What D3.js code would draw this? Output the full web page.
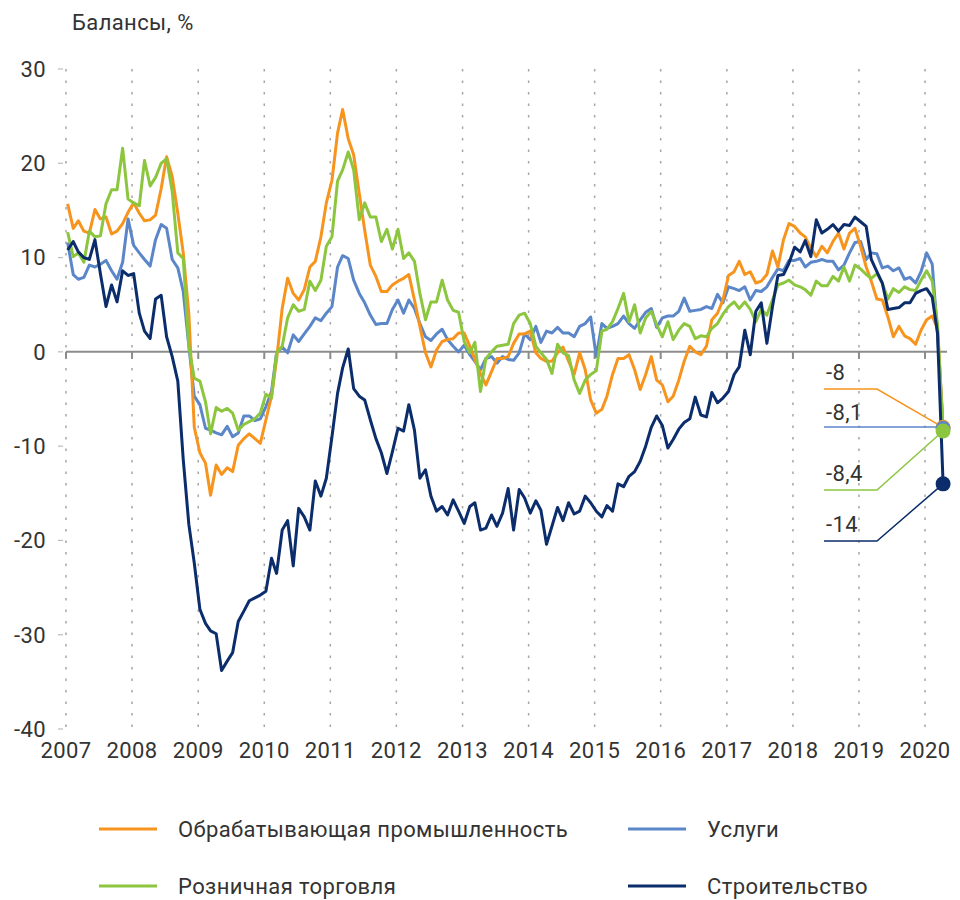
<!DOCTYPE html>
<html>
<head>
<meta charset="utf-8">
<script src="https://cdn.jsdelivr.net/npm/d3@7"></script>
<style>
  body { margin: 0; background: #fff; }
  svg text { font-family: Roboto, "Noto Sans", sans-serif; fill: #333; letter-spacing: 0.4px; }
</style>
</head>
<body>
<svg id="chart" width="960" height="900"></svg>
<script>
// monthly balances, Jan 2007 .. Apr 2020
const years = d3.range(2007, 2021);
const yTicks = [30, 20, 10, 0, -10, -20, -30, -40];

const manufacturing = [
  15.7, 13.1, 13.9, 12.8, 12.6, 15.1, 14.1, 14.3, 12.5, 12.8, 13.6, 14.8,
  15.8, 14.7, 13.9, 14.0, 14.5, 17.3, 20.7, 18.6, 14.7, 10.5, 4.0, -8.0,
  -10.7, -11.8, -15.2, -12.0, -13.0, -12.3, -12.7, -9.9, -9.2, -8.7, -9.2, -9.7,
  -7.2, -4.7, -0.8, 4.6, 7.8, 6.2, 5.5, 6.6, 9.0, 9.6, 12.2, 15.8,
  18.2, 23.2, 25.7, 22.6, 20.9, 16.8, 12.9, 9.2, 8.0, 6.4, 6.4, 7.1,
  7.5, 7.8, 8.2, 5.5, 2.7, -0.1, -1.6, 0.2, 1.1, 1.3, 1.4, 2.0,
  2.0, 0.6, -0.8, -2.3, -3.5, -2.1, -0.7, -0.7, -0.5, 0.9, 1.9, 1.9,
  2.2, -0.1, -0.7, -1.0, -1.0, -0.1, 0.5, -1.0, -2.4, -0.1, -1.9, -5.1,
  -6.5, -6.1, -4.7, -2.4, -0.7, -0.7, -0.3, -1.9, -4.0, -2.4, -0.5, -3.0,
  -3.5, -5.3, -4.7, -3.0, -1.0, 0.6, 0.0, -0.3, 0.6, 3.4, 4.1, 5.5,
  8.1, 8.5, 9.6, 8.2, 8.5, 7.3, 7.5, 8.2, 10.7, 9.0, 11.9, 13.6,
  13.3, 12.6, 12.2, 11.0, 10.1, 11.2, 10.5, 11.7, 12.6, 10.9, 12.6, 13.1,
  11.2, 9.0, 7.5, 5.6, 5.5, 3.7, 1.6, 2.7, 1.7, 1.4, 0.8, 2.3,
  3.4, 3.8, 2.5, -8.0
];

const services = [
  11.6, 8.2, 7.7, 7.9, 9.2, 9.0, 9.3, 9.7, 8.6, 7.7, 9.5, 14.1,
  11.3, 10.5, 9.8, 9.1, 11.9, 13.5, 13.1, 9.8, 8.9, 6.4, 0.6, -4.7,
  -5.6, -8.1, -8.3, -8.6, -8.8, -7.9, -9.0, -8.6, -6.8, -6.8, -7.3, -7.1,
  -5.8, -4.2, -0.1, 0.5, -0.1, 1.8, 1.1, 1.9, 2.7, 3.6, 3.3, 4.1,
  4.8, 9.0, 10.2, 9.9, 7.6, 6.2, 5.2, 3.9, 2.9, 3.0, 3.0, 4.5,
  5.5, 4.1, 5.5, 4.6, 3.0, 1.6, 1.2, 1.9, 2.4, 1.3, 0.6, 0.0,
  0.7, -0.3, -1.0, -1.9, -0.7, -0.5, -1.2, -0.5, -0.8, -0.9, -0.1, 1.9,
  1.3, 2.7, 1.0, 2.2, 2.0, 2.6, 2.0, 2.0, 1.6, 2.7, 3.0, 3.7,
  -0.5, 3.0, 2.5, 2.7, 3.0, 3.8, 3.0, 2.5, 3.4, 4.2, 4.6, 2.6,
  3.6, 3.8, 3.8, 4.3, 5.7, 4.3, 4.4, 4.5, 4.8, 4.6, 6.1, 5.2,
  6.9, 6.7, 6.5, 6.9, 5.5, 6.5, 6.4, 6.9, 7.9, 8.8, 8.6, 9.7,
  9.7, 9.9, 9.0, 9.5, 9.6, 9.8, 9.6, 9.6, 8.7, 9.2, 10.5, 11.6,
  11.7, 9.8, 10.5, 10.4, 8.9, 9.1, 8.6, 8.9, 7.7, 7.9, 7.3, 8.5,
  10.5, 9.3, 2.0, -8.1
];

const retail = [
  12.7, 10.1, 10.5, 9.5, 12.8, 12.2, 12.3, 15.7, 17.2, 17.2, 21.6, 16.2,
  15.8, 15.5, 20.3, 17.6, 18.5, 20.0, 20.5, 17.0, 10.5, 9.9, 0.6, -2.8,
  -3.1, -5.3, -8.7, -5.9, -6.3, -6.0, -6.5, -8.3, -7.7, -7.4, -7.1, -6.5,
  -4.5, -4.9, -0.1, 0.6, 3.6, 5.0, 4.3, 4.5, 7.5, 6.5, 7.6, 11.2,
  12.2, 18.1, 19.3, 21.2, 19.3, 14.0, 15.8, 14.3, 14.3, 11.7, 13.0, 10.9,
  13.0, 9.9, 10.5, 9.6, 6.2, 3.4, 5.3, 5.3, 7.6, 5.5, 4.4, 4.2,
  1.1, -0.1, 1.0, -4.2, -0.7, 0.0, 0.6, 0.7, 0.8, 3.0, 3.9, 4.1,
  3.0, 0.6, -0.1, -0.8, -2.3, 0.8, -0.1, -0.4, -3.0, -4.4, -3.0, -2.4,
  -2.0, 2.2, 2.4, 3.2, 4.6, 6.2, 3.2, 5.0, 2.0, 3.6, 4.3, 2.9,
  1.6, 3.2, 1.3, 2.3, 3.0, 2.7, 1.4, 1.7, 1.6, 2.5, 3.0, 4.0,
  4.8, 5.3, 4.6, 5.3, 4.5, 3.2, 4.5, 3.9, 5.5, 7.1, 7.3, 7.6,
  7.1, 6.9, 6.6, 6.0, 7.5, 7.0, 7.0, 8.0, 7.5, 9.0, 7.5, 9.2,
  8.8, 8.2, 7.8, 8.3, 7.3, 5.6, 6.7, 6.3, 6.9, 6.6, 6.5, 7.6,
  8.6, 7.5, 3.0, -8.4
];

const construction = [
  10.8, 11.7, 10.6, 10.0, 9.8, 11.9, 8.3, 4.8, 7.1, 5.3, 8.6, 8.1,
  8.3, 4.1, 2.2, 1.4, 5.6, 6.0, 1.6, -0.5, -3.1, -11.4, -18.3, -22.4,
  -27.3, -28.8, -29.6, -29.9, -33.8, -32.8, -31.9, -28.6, -27.5, -26.4, -26.1, -25.8,
  -25.4, -21.9, -23.5, -18.9, -17.9, -22.7, -16.6, -17.5, -18.9, -13.7, -15.3, -13.4,
  -9.0, -4.4, -1.7, 0.3, -3.9, -4.7, -5.1, -7.2, -9.2, -10.7, -12.9, -10.6,
  -8.1, -8.4, -5.6, -8.3, -13.4, -12.5, -15.3, -16.9, -16.4, -17.3, -15.7, -16.9,
  -18.2, -16.4, -16.0, -18.9, -18.7, -17.3, -18.5, -17.1, -14.5, -18.9, -14.6, -15.5,
  -17.1, -15.8, -16.8, -20.4, -18.5, -16.5, -17.9, -16.0, -17.2, -16.9, -15.3, -16.0,
  -16.9, -17.5, -16.3, -16.9, -14.0, -14.3, -13.2, -12.7, -11.6, -10.0, -8.0, -6.8,
  -7.8, -10.2, -9.3, -8.2, -7.5, -7.1, -4.8, -6.7, -6.9, -4.3, -5.4, -4.9,
  -4.2, -2.4, -1.6, 2.3, -0.3, 4.3, 5.2, 0.9, 4.8, 8.1, 8.2, 9.4,
  11.1, 10.6, 11.8, 10.1, 14.0, 12.6, 13.0, 13.5, 12.8, 13.5, 13.4, 14.3,
  13.8, 13.3, 9.8, 8.5, 7.3, 4.5, 4.6, 4.7, 5.2, 5.2, 6.2, 6.5,
  6.7, 5.8, 2.0, -14.0
];

const seriesNames = ['Обрабатывающая промышленность', 'Услуги', 'Розничная торговля', 'Строительство'];
const lastLabels = ['-8', '-8,1', '-8,4', '-14'];

const colors = {
  manufacturing: '#f7941d',
  services: '#5b86c8',
  retail: '#8cc63f',
  construction: '#0b2d6b'
};

const months = manufacturing.map((d, i) => new Date(2007, i, 10));

const svg = d3.select('#chart');

const x = d3.scaleTime()
    .domain([new Date(2007, 0, 1), new Date(2020, 0, 1)])
    .range([66, 925]);
const y = d3.scaleLinear()
    .domain([-40, 30])
    .range([729, 69]);

// title
svg.append('text')
    .attr('x', 72).attr('y', 30)
    .attr('font-size', 22)
    .text('Балансы, %');

// vertical dotted grid
svg.append('g').selectAll('line')
    .data(years)
    .join('line')
    .attr('x1', d => x(new Date(d, 0, 1)))
    .attr('x2', d => x(new Date(d, 0, 1)))
    .attr('y1', y(30))
    .attr('y2', y(-40))
    .attr('stroke', '#a6a6a6')
    .attr('stroke-width', 1.5)
    .attr('stroke-dasharray', '2.5,9');

// y axis ticks and labels
const yAxis = svg.append('g');
yAxis.selectAll('line')
    .data(yTicks)
    .join('line')
    .attr('x1', 58).attr('x2', 63)
    .attr('y1', d => y(d)).attr('y2', d => y(d))
    .attr('stroke', '#bbb')
    .attr('stroke-width', 1.2);
yAxis.selectAll('text')
    .data(yTicks)
    .join('text')
    .attr('x', 46)
    .attr('y', d => y(d))
    .attr('dy', '0.36em')
    .attr('text-anchor', 'end')
    .attr('font-size', 22)
    .text(d => d);

// zero line with year ticks
svg.append('line')
    .attr('x1', 66).attr('x2', 947)
    .attr('y1', y(0)).attr('y2', y(0))
    .attr('stroke', '#8c8c8c')
    .attr('stroke-width', 2);
svg.append('g').selectAll('line')
    .data(years)
    .join('line')
    .attr('x1', d => x(new Date(d, 0, 1)))
    .attr('x2', d => x(new Date(d, 0, 1)))
    .attr('y1', y(0)).attr('y2', y(0) + 7)
    .attr('stroke', '#8c8c8c')
    .attr('stroke-width', 2);

// x labels
svg.append('g').selectAll('text')
    .data(years)
    .join('text')
    .attr('x', d => x(new Date(d, 0, 1)))
    .attr('y', 758)
    .attr('text-anchor', 'middle')
    .attr('font-size', 22)
    .text(d => d);

// lines
const line = d3.line()
    .x((d, i) => x(months[i]))
    .y(d => y(d));

const drawOrder = [
  { data: services, color: colors.services },
  { data: manufacturing, color: colors.manufacturing },
  { data: retail, color: colors.retail },
  { data: construction, color: colors.construction }
];
svg.append('g').selectAll('path')
    .data(drawOrder)
    .join('path')
    .attr('d', d => line(d.data))
    .attr('fill', 'none')
    .attr('stroke', d => d.color)
    .attr('stroke-width', 3)
    .attr('stroke-linejoin', 'round');

// end-point callouts
const last = months.length - 1;
const xEnd = x(months[last]);
const callouts = [
  { data: manufacturing, color: colors.manufacturing, label: lastLabels[0], ty: 380, ly: 389, bend: true },
  { data: services, color: colors.services, label: lastLabels[1], ty: 420, ly: 427, bend: false },
  { data: retail, color: colors.retail, label: lastLabels[2], ty: 481, ly: 490, bend: true },
  { data: construction, color: colors.construction, label: lastLabels[3], ty: 532, ly: 541, bend: true }
];
const cg = svg.append('g');
callouts.forEach(c => {
  const yEnd = y(c.data[last]);
  const p = c.bend
    ? `M824,${c.ly}H877L${xEnd},${yEnd}`
    : `M824,${c.ly}H${xEnd}`;
  cg.append('path')
      .attr('d', p)
      .attr('fill', 'none')
      .attr('stroke', c.color)
      .attr('stroke-width', 1.5);
  cg.append('text')
      .attr('x', 826).attr('y', c.ty)
      .attr('font-size', 22)
      .text(c.label);
});
callouts.forEach(c => {
  cg.append('circle')
      .attr('cx', xEnd)
      .attr('cy', y(c.data[last]))
      .attr('r', 7.5)
      .attr('fill', c.color);
});

// legend
const legend = [
  { name: seriesNames[0], color: colors.manufacturing, lx: 99, ly: 829 },
  { name: seriesNames[1], color: colors.services, lx: 628, ly: 829 },
  { name: seriesNames[2], color: colors.retail, lx: 99, ly: 886 },
  { name: seriesNames[3], color: colors.construction, lx: 628, ly: 886 }
];
const lg = svg.append('g').selectAll('g')
    .data(legend)
    .join('g')
    .attr('transform', d => `translate(${d.lx},${d.ly})`);
lg.append('line')
    .attr('x1', 0).attr('x2', 58)
    .attr('stroke', d => d.color)
    .attr('stroke-width', 3);
lg.append('text')
    .attr('x', 79)
    .attr('dy', '0.36em')
    .attr('font-size', 22)
    .text(d => d.name);
</script>
</body>
</html>
